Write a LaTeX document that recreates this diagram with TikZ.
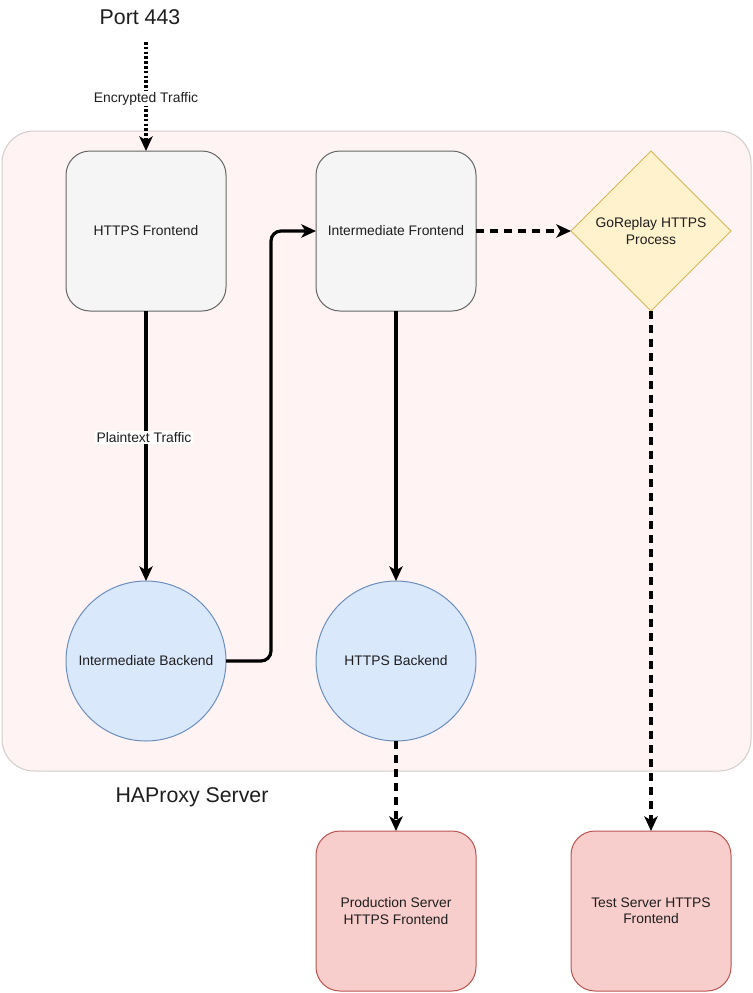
\documentclass[tikz,border=0pt]{standalone}
\usepackage{fontspec}
\setmainfont{Liberation Sans}
\usetikzlibrary{shapes.geometric,arrows.meta}
\definecolor{cfill}{HTML}{FFF4F3}
\definecolor{cborder}{HTML}{D2CCCC}
\definecolor{gfill}{HTML}{F5F5F5}
\definecolor{gline}{HTML}{666666}
\definecolor{bfill}{HTML}{DAE8FC}
\definecolor{bline}{HTML}{6C8EBF}
\definecolor{yfill}{HTML}{FFF2CC}
\definecolor{yline}{HTML}{D6B656}
\definecolor{rfill}{HTML}{F8CECC}
\definecolor{rline}{HTML}{B85450}
\definecolor{txt}{HTML}{1E1E1E}
\begin{document}
\begin{tikzpicture}[x=0.75pt,y=-0.75pt,
  small/.style={font=\fontsize{10.4}{12.2}\selectfont, text=txt, align=center},
  big/.style={font=\fontsize{16}{19}\selectfont, text=txt},
  basebox/.style={small, rectangle, rounded corners=18pt, minimum width=120pt, minimum height=120pt, inner sep=0pt, outer sep=0pt, line width=0.75pt},
  graybox/.style={basebox, draw=gline, fill=gfill},
  redbox/.style={basebox, draw=rline, fill=rfill},
  circ/.style={small, circle, minimum size=120pt, inner sep=0pt, outer sep=0pt, draw=bline, fill=bfill, line width=0.75pt},
  dia/.style={small, diamond, minimum width=120pt, minimum height=120pt, inner sep=0pt, outer sep=0pt, draw=yline, fill=yfill, line width=0.75pt},
  flow/.style={line width=2.4pt, -{Stealth[length=11pt,width=10pt,inset=3pt]}},
  dsh/.style={flow, dash pattern=on 6pt off 4.5pt},
  dot/.style={flow, dash pattern=on 2pt off 1.6pt},
  lbl/.style={small, fill=white, inner sep=1pt}
]
\useasboundingbox (0,0) rectangle (753,993);
\fill[white] (0,0) rectangle (753,993);

% container
\draw[draw=cborder, fill=cfill, line width=0.75pt, rounded corners=24pt] (2,131) rectangle (751,771);
\node[big] (haproxy) at (192,797) {HAProxy Server};
\node[big] (port) at (140,17) {Port 443};
\coordinate (portin) at (146,42);

% nodes
\node[graybox] (hf) at (146,231) {\raisebox{-1.5pt}{HTTPS Frontend}};
\node[graybox] (if) at (396,231) {\raisebox{-1.5pt}{Intermediate Frontend}};
\node[dia] (gr) at (651,231) {GoReplay HTTPS\\Process};
\node[circ] (ib) at (146,661) {\raisebox{-1.5pt}{Intermediate Backend}};
\node[circ] (hb) at (396,661) {\raisebox{-1.5pt}{HTTPS Backend}};
\node[redbox] (ps) at (396,911) {Production Server\\HTTPS Frontend};
\node[redbox] (ts) at (651,911) {Test Server HTTPS\\Frontend};
\coordinate (elb) at (271,661);

% connectors
\draw[dot] (portin) -- node[lbl, yshift=-1.5pt] {Encrypted Traffic} (hf.north);
\draw[flow] (hf.south) -- node[lbl, pos=0.47, xshift=-1.5pt] {Plaintext Traffic} (ib.north);
\draw[flow, rounded corners=7.5pt] (ib.east) -- (elb) |- (if.west);
\draw[dsh] (if.east) -- (gr.west);
\draw[flow] (if.south) -- (hb.north);
\draw[dsh] (hb.south) -- (ps.north);
\draw[dsh] (gr.south) -- (ts.north);
\end{tikzpicture}
\end{document}
